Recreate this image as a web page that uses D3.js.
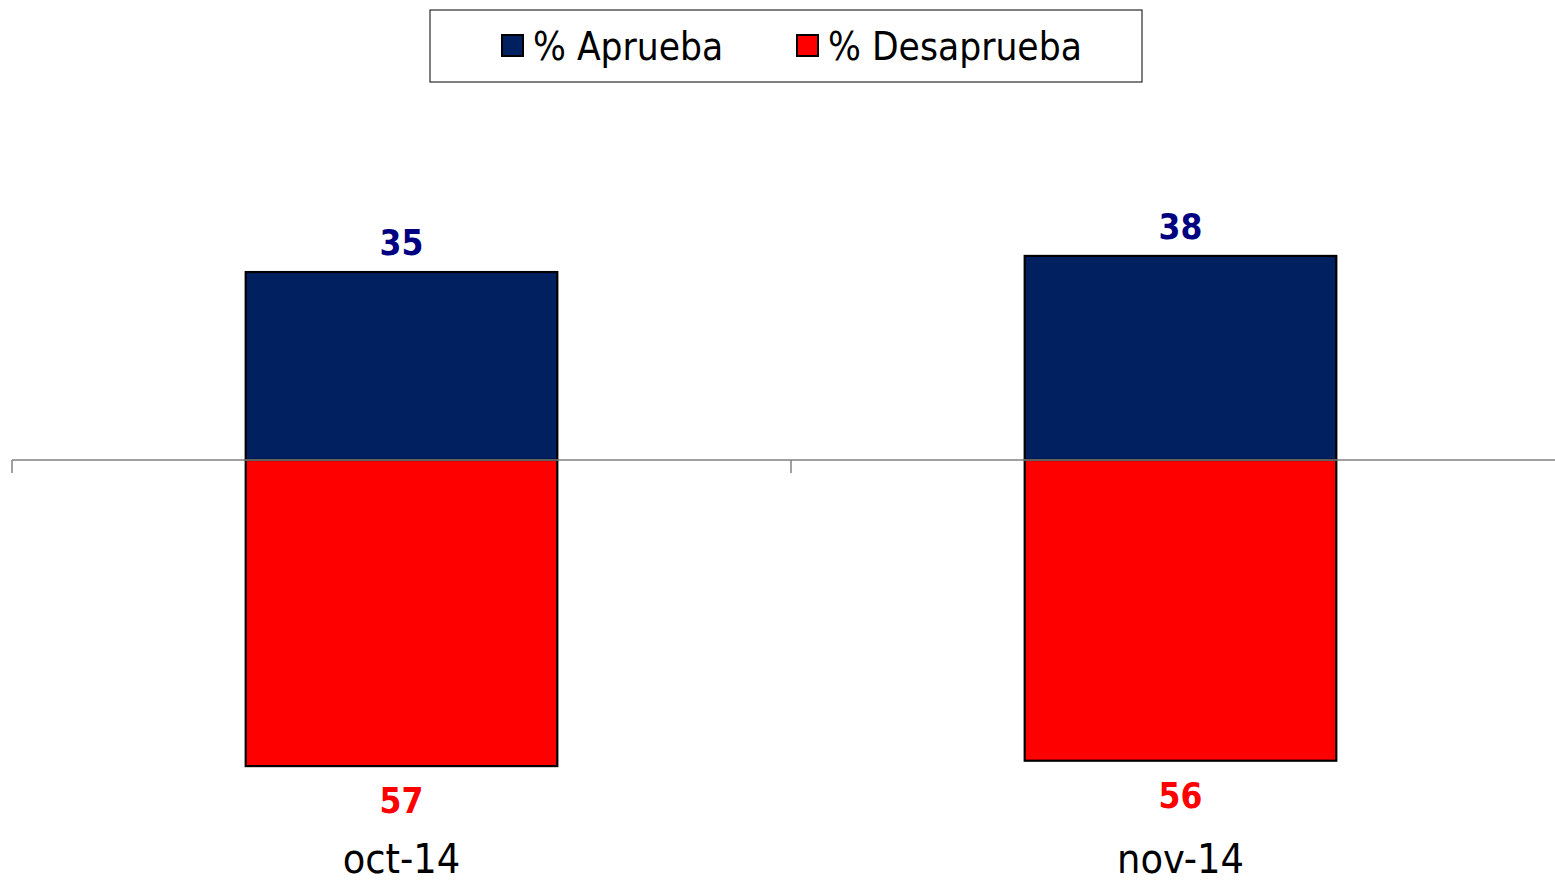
<!DOCTYPE html>
<html>
<head>
<meta charset="utf-8">
<script src="https://cdn.jsdelivr.net/npm/d3@7"></script>
<style>
  body { margin: 0; background: #fff; }
  svg { display: block; }
  text { font-family: "DejaVu Sans Condensed", "DejaVu Sans", sans-serif; font-stretch: condensed; }
</style>
</head>
<body>
<div id="chart"></div>
<script>
let width = 1555;
let height = 884;

let categories = ["oct-14", "nov-14"];
let aprueba = [35, 38];
let desaprueba = [57, 56];
let seriesNames = ["% Aprueba", "% Desaprueba"];

let colorBar = { aprueba: "#002060", desaprueba: "#FF0000" };
let colorLabel = { aprueba: "#000080", desaprueba: "#FF0000" };

let svg = d3.select("#chart").append("svg")
    .attr("width", width).attr("height", height);

let x = d3.scaleBand().domain(categories).range([12, 1570]);
let y = d3.scaleLinear().domain([-60, 40]).range([460 + 60 * 5.37, 460 - 40 * 5.37]);
let barW = x.bandwidth() * 0.4;

// bars
let g = svg.append("g");
g.selectAll(".bar-up").data(categories).join("rect")
    .attr("class", "bar-up")
    .attr("x", d => x(d) + x.bandwidth() / 2 - barW / 2)
    .attr("width", barW)
    .attr("y", (d, i) => y(aprueba[i]))
    .attr("height", (d, i) => y(0) - y(aprueba[i]))
    .attr("fill", colorBar.aprueba)
    .attr("stroke", "#000").attr("stroke-width", 2.2);

g.selectAll(".bar-down").data(categories).join("rect")
    .attr("class", "bar-down")
    .attr("x", d => x(d) + x.bandwidth() / 2 - barW / 2)
    .attr("width", barW)
    .attr("y", y(0))
    .attr("height", (d, i) => y(-desaprueba[i]) - y(0))
    .attr("fill", colorBar.desaprueba)
    .attr("stroke", "#000").attr("stroke-width", 2.2);

// axis line at zero with ticks at category boundaries
let axis = svg.append("g").attr("stroke", "#808080").attr("stroke-width", 1.5);
axis.append("line")
    .attr("x1", x.range()[0]).attr("x2", x.range()[1])
    .attr("y1", y(0)).attr("y2", y(0));
axis.selectAll(".tick").data(categories).join("line")
    .attr("x1", d => x(d)).attr("x2", d => x(d))
    .attr("y1", y(0)).attr("y2", y(0) + 13);

// value labels
svg.selectAll(".lbl-up").data(categories).join("text")
    .attr("x", d => x(d) + x.bandwidth() / 2)
    .attr("y", (d, i) => y(aprueba[i]) - 17)
    .attr("text-anchor", "middle")
    .attr("font-size", 35).attr("font-weight", "bold")
    .attr("fill", colorLabel.aprueba)
    .text((d, i) => aprueba[i]);

svg.selectAll(".lbl-down").data(categories).join("text")
    .attr("x", d => x(d) + x.bandwidth() / 2)
    .attr("y", (d, i) => y(-desaprueba[i]) + 47)
    .attr("text-anchor", "middle")
    .attr("font-size", 35).attr("font-weight", "bold")
    .attr("fill", colorLabel.desaprueba)
    .text((d, i) => desaprueba[i]);

// category labels
svg.selectAll(".cat").data(categories).join("text")
    .attr("x", d => x(d) + x.bandwidth() / 2)
    .attr("y", 873)
    .attr("text-anchor", "middle")
    .attr("font-size", 41)
    .attr("fill", "#000")
    .text(d => d);

// legend
let legend = svg.append("g");
legend.append("rect")
    .attr("x", 430).attr("y", 10).attr("width", 712).attr("height", 72)
    .attr("fill", "#fff").attr("stroke", "#000").attr("stroke-width", 1);
let legX = [502, 797];
let legCol = [colorBar.aprueba, colorBar.desaprueba];
legend.selectAll(".sw").data(seriesNames).join("rect")
    .attr("x", (d, i) => legX[i]).attr("y", 35)
    .attr("width", 21).attr("height", 21)
    .attr("fill", (d, i) => legCol[i])
    .attr("stroke", "#000").attr("stroke-width", 2);
legend.selectAll(".lt").data(seriesNames).join("text")
    .attr("x", (d, i) => legX[i] + 31).attr("y", 60)
    .attr("font-size", 38.5)
    .attr("fill", "#000")
    .text(d => d);
</script>
</body>
</html>
